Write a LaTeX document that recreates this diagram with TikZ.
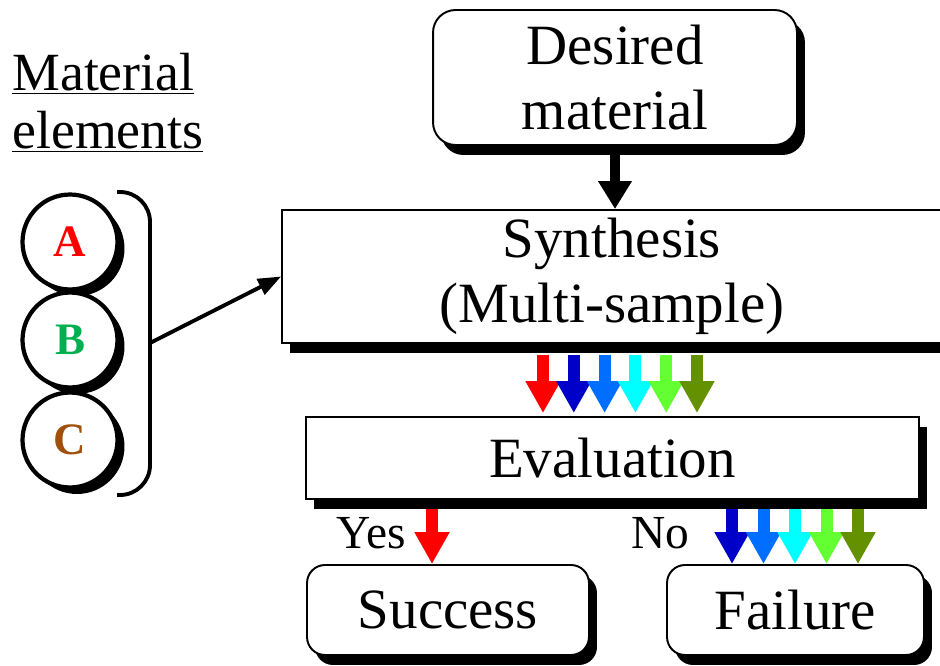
\documentclass[tikz,border=0pt]{standalone}
\usepackage{fontspec}
\setmainfont{Liberation Serif}
\usepackage{tikz}
\usetikzlibrary{arrows.meta,shadows,positioning}
\definecolor{arrred}{RGB}{255,0,0}
\definecolor{arrnavy}{RGB}{0,0,200}
\definecolor{arrazure}{RGB}{0,110,255}
\definecolor{arrcyan}{RGB}{0,255,255}
\definecolor{arrlime}{RGB}{100,255,50}
\definecolor{arrolive}{RGB}{100,145,0}
\definecolor{elemA}{RGB}{255,0,0}
\definecolor{elemB}{RGB}{0,176,80}
\definecolor{elemC}{RGB}{160,80,10}

\begin{document}
\begin{tikzpicture}[x=0.02cm,y=-0.02cm]

\tikzset{bigtext/.style={font=\fontsize{32.4}{37}\selectfont},
smalltext/.style={font=\fontsize{27}{30}\selectfont},
boxshadow/.style={drop shadow={shadow xshift=0.16cm,shadow yshift=-0.2cm,opacity=1,fill=black}},
plainbox/.style={bigtext,draw,line width=1.1pt,fill=white,boxshadow,inner sep=0pt,align=center},
roundbox/.style={plainbox,rounded corners=0.45cm},
elemnode/.style={circle,draw,line width=2.4pt,fill=white,minimum size=1.9cm,inner sep=0pt,font=\fontsize{25.6}{28}\selectfont\bfseries,drop shadow={shadow xshift=0.14cm,shadow yshift=-0.13cm,opacity=1,fill=black}},
fatarrow/.style={line width=0.24cm,-{Triangle[width=0.66cm,length=0.64cm]}},
blackarrow/.style={line width=0.2cm,-{Triangle[width=0.64cm,length=0.56cm]}}}

\useasboundingbox (0,0) rectangle (940,666);

% Heading
\node[font=\fontsize{30.6}{34}\selectfont,anchor=base west,inner sep=0pt] (matl) at (12,90) {\underline{Material}};
\node[font=\fontsize{30.6}{34}\selectfont,anchor=base west,inner sep=0pt] (elem) at (12,148) {\underline{elements}};

% Element circles
\foreach \n/\y in {A/242,B/340,C/440} \node[elemnode,text=elem\n] (el\n) at (70,\y) {\n};

% Bracket round the elements
\draw[line width=2.2pt,rounded corners=0.6cm] (117,192) -- (150,192) -- (150,495) -- (117,495);
\coordinate (brk) at (150,343);

% Process boxes
\node[roundbox,minimum width=7.28cm,minimum height=2.7cm] (desired) at (615,77.5) {Desired\\material};
\node[plainbox,minimum width=13.2cm,minimum height=2.66cm] (synth) at (612,276.5) {Synthesis\\(Multi-sample)};
\node[plainbox,minimum width=12.26cm,minimum height=1.64cm] (eval) at (612.5,458) {Evaluation};
\node[roundbox,rounded corners=0.36cm,minimum width=5.64cm,minimum height=1.8cm] (succ) at (448,610) {Success};
\node[roundbox,rounded corners=0.36cm,minimum width=5.14cm,minimum height=1.8cm] (fail) at (795.5,610) {Failure};

% Edges
\draw[line width=2.2pt,-{Triangle[width=0.34cm,length=0.46cm]}] (brk) -- (synth.west);
\draw[blackarrow] (desired.south) -- (desired.south |- synth.north);

% Samples
\foreach \c [count=\i from 0] in {arrred,arrnavy,arrazure,arrcyan,arrlime,arrolive}
  \draw[fatarrow,\c,shorten <=0.22cm,shorten >=0.06cm] ([xshift=-1.38cm+\i*0.616cm]synth.south) -- ([xshift=-1.38cm+\i*0.616cm]synth.south |- eval.north);

% Yes / No
\node[smalltext,anchor=base east,inner sep=0pt] (yes) at (406,548) {Yes};
\node[smalltext,anchor=base east,inner sep=0pt] (no) at (690,548) {No};
\draw[fatarrow,arrred,shorten <=0.18cm] ([xshift=-0.32cm]succ.north |- eval.south) -- ([xshift=-0.32cm]succ.north);
\foreach \c [count=\i from 0] in {arrnavy,arrazure,arrcyan,arrlime,arrolive}
  \draw[fatarrow,\c,shorten <=0.18cm] ([xshift=-1.27cm+\i*0.63cm]fail.north |- eval.south) -- ([xshift=-1.27cm+\i*0.63cm]fail.north);

\end{tikzpicture}
\end{document}
